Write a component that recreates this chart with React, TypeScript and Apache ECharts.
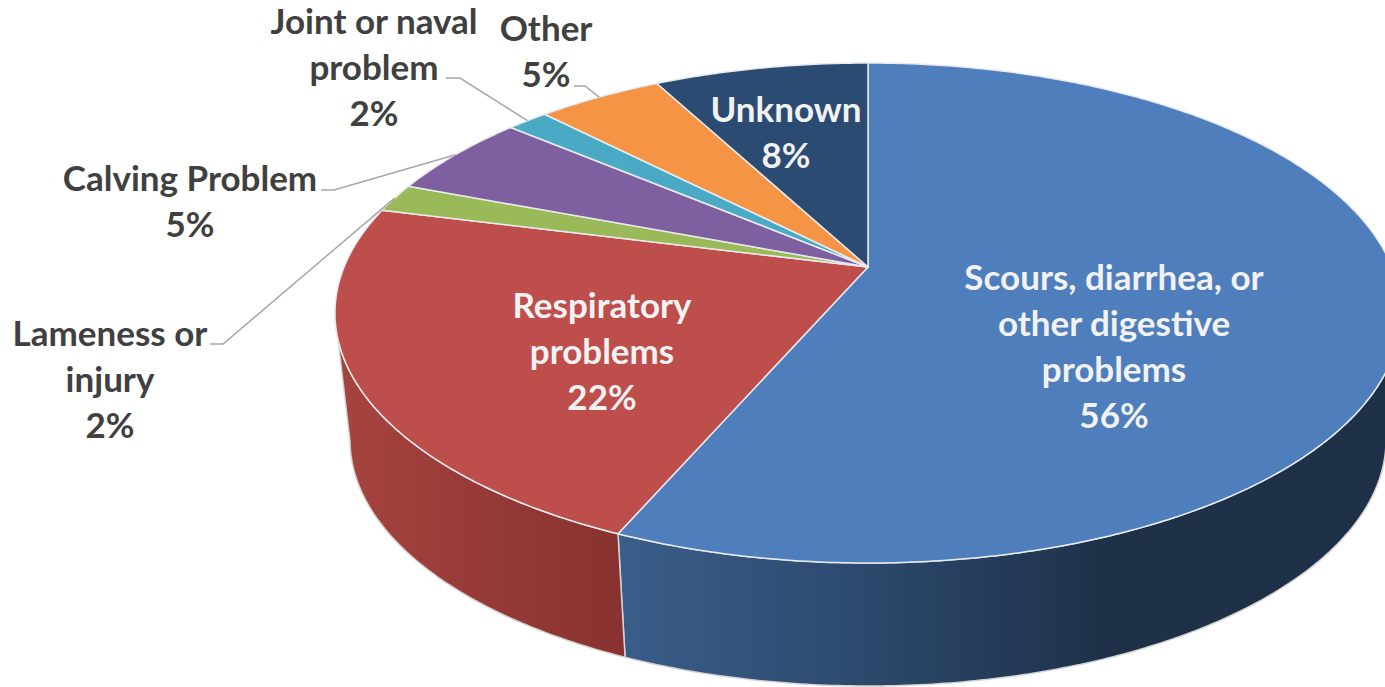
import React, { useEffect, useRef } from "react";
import * as echarts from "echarts";

// ---- data ----
const categories = [
  "Scours, diarrhea, or\nother digestive\nproblems",
  "Respiratory\nproblems",
  "Lameness or\ninjury",
  "Calving Problem",
  "Joint or naval\nproblem",
  "Other",
  "Unknown",
];
const shares = [56.49, 22.45, 1.85, 5.4, 1.5, 4.55, 7.76];

// ---- styling and layout ----
const faceColors = ["#4e7fbc", "#bd4e4c", "#9ab958", "#7e60a0", "#4aa9c5", "#f59445", "#2b4b73"];
const wallStops: Record<number, [number, string][]> = {
  0: [[0, "#3a5d8a"], [0.3, "#2d4a6e"], [0.62, "#1e3149"], [1, "#1d3047"]],
  1: [[0, "#a6433f"], [1, "#873230"]],
};
const labelAnchors = [
  [1114, 276], [602, 304], [110, 332], [190, 177], [374, 20], [546, 27], [786, 108],
];
const labelInside = [true, true, false, false, false, false, true];
const leaderStarts: ([number, number, number] | null)[] = [
  null, null, [210, 223, 344], [321, 334, 190], [446, 460, 78], [574, 585, 86], null,
];
const LINE_H = 46;
const FONT_SIZE = 35;
const APEX_SHIFT = -0.184;
const TOP = { cx: 868, cy: 313, rx: 533, ry: 250 };
const BOTTOM = { cx: 868, cy: 440, rx: 518, ry: 246 };

const total = shares.reduce((a, b) => a + b, 0);
const cum: number[] = [0];
shares.forEach((v) => cum.push(cum[cum.length - 1] + v));
const angleOf = (v: number) => (v / total) * Math.PI * 2;

type Ell = typeof TOP;
// circle point at clockwise angle t from the top, seen in perspective
function norm(t: number) {
  const x = Math.sin(t);
  const y = -Math.cos(t);
  const c = APEX_SHIFT;
  const d = 1 + c * y;
  return [(Math.sqrt(1 - c * c) * x) / d, (y + c) / d];
}
function project(t: number, e: Ell): [number, number] {
  const [u, v] = norm(t);
  return [e.cx + u * e.rx, e.cy + v * e.ry];
}
function arc(a: number, b: number, e: Ell) {
  const pts: [number, number][] = [];
  const n = Math.max(2, Math.ceil((b - a) / 0.01));
  for (let i = 0; i <= n; i++) pts.push(project(a + ((b - a) * i) / n, e));
  return pts;
}

function renderWall(params: any) {
  const i = params.dataIndex;
  const a = angleOf(cum[i]);
  const b = angleOf(cum[i + 1]);
  const ts: number[] = [];
  const n = Math.ceil((b - a) / 0.01);
  for (let k = 0; k <= n; k++) {
    const t = a + ((b - a) * k) / n;
    if (norm(t)[1] >= 0) ts.push(t);
  }
  if (ts.length < 2) return { type: "group", children: [] };
  const top = ts.map((t) => project(t, TOP));
  const bot = ts.map((t) => project(t, BOTTOM)).reverse();
  return {
    type: "polygon",
    shape: { points: [...top, ...bot] },
    style: {
      fill: {
        type: "linear", x: 0, y: 0, x2: 1, y2: 0,
        colorStops: (wallStops[i] || [[0, faceColors[i]], [1, faceColors[i]]]).map(([offset, color]) => ({ offset, color })),
      },
      stroke: "#d4d4d4",
      lineWidth: 1.5,
    },
  };
}

function renderFace(params: any) {
  const i = params.dataIndex;
  const apexPt: [number, number] = [TOP.cx, TOP.cy + APEX_SHIFT * TOP.ry];
  return {
    type: "polygon",
    shape: { points: [apexPt, ...arc(angleOf(cum[i]), angleOf(cum[i + 1]), TOP)] },
    style: { fill: faceColors[i], stroke: "#e8eaee", lineWidth: 1.5, lineJoin: "round" },
  };
}

function renderLabel(params: any, api: any) {
  const i = params.dataIndex;
  const [cx, y0] = labelAnchors[i];
  const pct = Math.round(api.value(0));
  const children: any[] = [];
  const ls = leaderStarts[i];
  if (ls) {
    const end = project(angleOf((cum[i] + cum[i + 1]) / 2), TOP);
    children.push({
      type: "polyline",
      shape: { points: [[ls[0], ls[2]], [ls[1], ls[2]], end] },
      style: { stroke: "#a6a6a6", lineWidth: 1.5, fill: "none" },
    });
  }
  const lines = `${categories[i]}\n${pct}%`.split("\n");
  lines.forEach((line, k) => {
    children.push({
      type: "text",
      style: {
        text: line,
        x: cx,
        y: y0 + k * LINE_H,
        align: "center",
        verticalAlign: "middle",
        fontFamily: "Lato",
        fontWeight: "bold",
        fontSize: FONT_SIZE,
        fill: labelInside[i] ? "#f2f2f2" : "#404040",
      },
    });
  });
  return { type: "group", children };
}

export default function App() {
  const ref = useRef<HTMLDivElement>(null);
  useEffect(() => {
    document.body.style.margin = "0";
    const chart = echarts.init(ref.current!, null, { renderer: "svg" });
    const data = shares.map((v) => [v]);
    const base = { type: "custom", coordinateSystem: "none", data, silent: true, clip: false };
    chart.setOption({
      animation: false,
      backgroundColor: "#ffffff",
      series: [
        { ...base, name: "walls", z: 1, renderItem: renderWall },
        { ...base, name: "faces", z: 2, renderItem: renderFace },
        { ...base, name: "labels", z: 3, renderItem: renderLabel },
      ],
    });
    return () => chart.dispose();
  }, []);
  return <div ref={ref} style={{ width: 1385, height: 687, overflow: "hidden" }} />;
}
